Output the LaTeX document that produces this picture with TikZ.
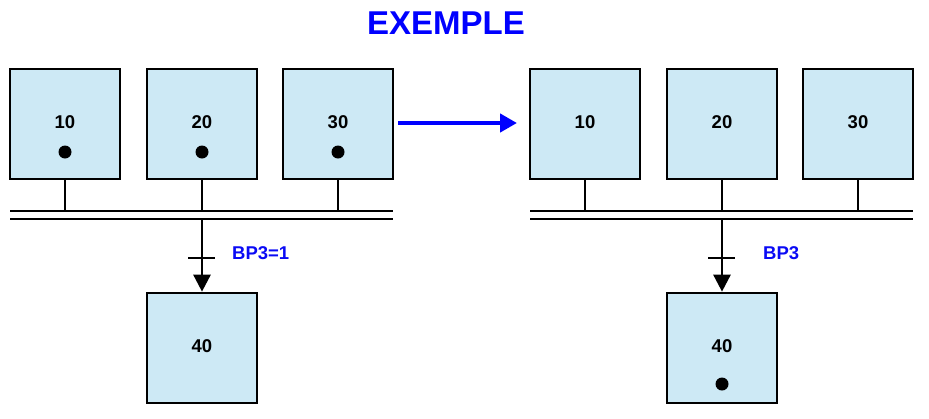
\documentclass[tikz,border=0pt]{standalone}
\usepackage{fontspec}
\setmainfont{Liberation Sans}
\usetikzlibrary{arrows.meta}
\definecolor{boxfill}{RGB}{205,233,245}
\definecolor{lblblue}{RGB}{10,10,245}
\definecolor{titleblue}{RGB}{0,0,255}
\begin{document}
\begin{tikzpicture}[x=1pt,y=-1pt,
  etape/.style={draw=black,fill=boxfill,line width=2.7pt,minimum width=110pt,minimum height=110pt,inner sep=0pt},
  num/.style={font=\bfseries\fontsize{18.5pt}{20pt}\selectfont,inner sep=0pt},
  jeton/.style={circle,fill=black,minimum size=13pt,inner sep=0pt},
  lien/.style={line width=2.7pt},
  busline/.style={line width=2.4pt},
  trans/.style={line width=2.7pt,-{Triangle[length=17pt,width=17pt]}},
  cond/.style={font=\bfseries\fontsize{18.5pt}{20pt}\selectfont,text=lblblue,inner sep=0pt,anchor=west},
  evol/.style={draw=titleblue,line width=4.5pt,-{Triangle[length=17pt,width=18pt]}}
]
\useasboundingbox (0,0) rectangle (929,418);
\node[font=\bfseries\fontsize{33pt}{36pt}\selectfont,text=titleblue] (titre) at (446,23) {EXEMPLE};

% ---------- left ----------
\node[etape] (a10) at (65,124) {};
\node[etape] (a20) at (202,124) {};
\node[etape] (a30) at (338,124) {};
\node[num] (ta10) at (65,122) {10};
\node[num] (ta20) at (202,122) {20};
\node[num] (ta30) at (338,122) {30};
\node[jeton] (ja10) at (65,152) {};
\node[jeton] (ja20) at (202,152) {};
\node[jeton] (ja30) at (338,152) {};
\coordinate (aBus1W) at (10,211);
\coordinate (aBus1E) at (393,211);
\coordinate (aBus2W) at (10,219);
\coordinate (aBus2E) at (393,219);
\draw[busline] (aBus1W) -- (aBus1E);
\draw[busline] (aBus2W) -- (aBus2E);
\foreach \n in {a10,a20,a30} \draw[lien] (\n.south) -- (\n.south |- aBus1W);
\node[etape] (a40) at (202,348) {};
\node[num] (ta40) at (202,346) {40};
\coordinate (aTop) at (202,219);
\draw[trans] (aTop) -- (a40.north);
\coordinate (aTickW) at (188,258);
\coordinate (aTickE) at (215,258);
\draw[lien] (aTickW) -- (aTickE);
\node[cond] (ca) at (232,253) {BP3=1};

% ---------- arrow ----------
\coordinate (evS) at (398,123);
\coordinate (evE) at (517,123);
\draw[evol] (evS) -- (evE);

% ---------- right ----------
\node[etape] (b10) at (585,124) {};
\node[etape] (b20) at (722,124) {};
\node[etape] (b30) at (858,124) {};
\node[num] (tb10) at (585,122) {10};
\node[num] (tb20) at (722,122) {20};
\node[num] (tb30) at (858,122) {30};
\coordinate (bBus1W) at (530,211);
\coordinate (bBus1E) at (913,211);
\coordinate (bBus2W) at (530,219);
\coordinate (bBus2E) at (913,219);
\draw[busline] (bBus1W) -- (bBus1E);
\draw[busline] (bBus2W) -- (bBus2E);
\foreach \n in {b10,b20,b30} \draw[lien] (\n.south) -- (\n.south |- bBus1W);
\node[etape] (b40) at (722,348) {};
\node[num] (tb40) at (722,346) {40};
\node[jeton] (jb40) at (722,384) {};
\coordinate (bTop) at (722,219);
\draw[trans] (bTop) -- (b40.north);
\coordinate (bTickW) at (708,258);
\coordinate (bTickE) at (735,258);
\draw[lien] (bTickW) -- (bTickE);
\node[cond] (cb) at (763,253) {BP3};
\end{tikzpicture}
\end{document}
